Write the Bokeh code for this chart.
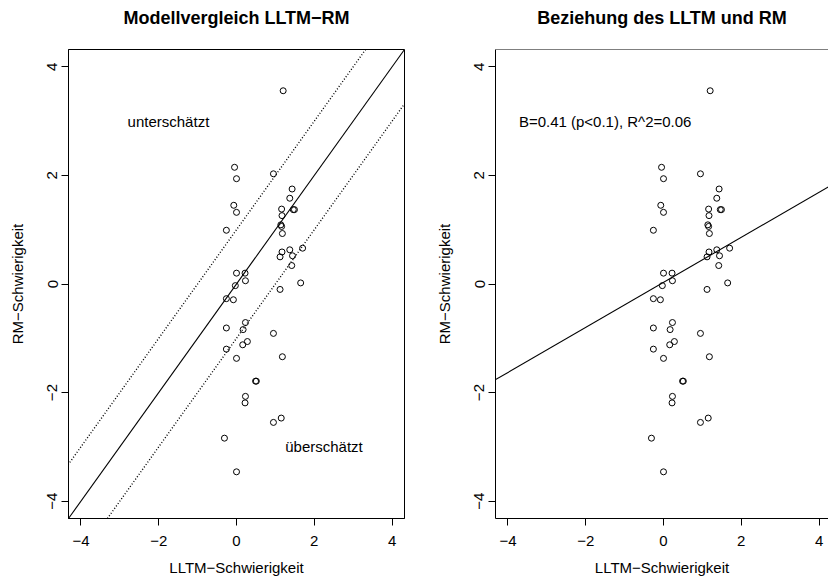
from bokeh.plotting import figure
from bokeh.layouts import row
from bokeh.models import FixedTicker, Slope, Label, Span, Range1d
from bokeh.embed import file_html
from bokeh.resources import INLINE

# ---- data ----
lltm = [1.20, -0.05, 0.00, 0.95, 1.43, 1.37, -0.07, 0.00, 1.16, 1.46, 1.49, 1.17,
        1.14, 1.16, -0.26, 1.18, 1.17, 1.37, 1.44, 1.12, 1.70, 1.42, 1.65, 1.12,
        0.00, 0.22, 0.23, -0.03, -0.26, -0.08, 0.23, -0.26, 0.17, 0.95, 0.28, 0.16,
        -0.26, 1.18, 0.00, 0.49, 0.51, 0.23, 0.22, 1.15, 0.95, -0.31, 0.00]
rm = [3.56, 2.15, 1.94, 2.03, 1.75, 1.58, 1.45, 1.32, 1.38, 1.37, 1.37, 1.26,
      1.09, 1.06, 0.99, 0.93, 0.59, 0.63, 0.52, 0.50, 0.66, 0.34, 0.02, -0.10,
      0.20, 0.20, 0.06, -0.03, -0.27, -0.29, -0.71, -0.81, -0.84, -0.91, -1.06, -1.12,
      -1.20, -1.34, -1.37, -1.79, -1.79, -2.07, -2.19, -2.47, -2.55, -2.84, -3.46]

ticks = [-4, -2, 0, 2, 4]
tick_labels = ["\u22124", "\u22122", "0", "2", "4"]

identity_line = (1.0, 0.0)          # gradient, intercept
band_intercepts = [1.0, -1.0]       # dotted lines y = x +/- 1
regression_line = (0.415, 0.03)     # gradient, intercept

titles = ["Modellvergleich LLTM\u2212RM", "Beziehung des LLTM und RM"]
xlabel = "LLTM\u2212Schwierigkeit"
ylabel = "RM\u2212Schwierigkeit"
notes_left = [(-1.75, 3.0, "unterschätzt"), (2.25, -3.0, "überschätzt")]
note_right = (-1.5, 3.0, "B=0.41 (p<0.1), R^2=0.06")

FONT = "Liberation Sans"
LIM = 4.32
FRAME_W = 336


def style(p):
    p.grid.visible = False
    p.background_fill_color = "white"
    p.border_fill_color = "white"
    p.title.text_font = FONT
    p.title.text_font_size = "18px"
    p.title.text_font_style = "bold"
    p.title.align = "center"
    p.title.vertical_align = "bottom"
    p.title.text_line_height = 1.1
    p.title.standoff = 0
    p.title.text_color = "black"
    for ax in (p.xaxis[0], p.yaxis[0]):
        ax.ticker = FixedTicker(ticks=ticks)
        ax.major_label_overrides = dict(zip(ticks, tick_labels))
        ax.minor_tick_line_color = None
        ax.major_tick_out = 7
        ax.major_tick_in = 0
        ax.major_tick_line_color = "black"
        ax.axis_line_color = "black"
        ax.major_label_text_font = FONT
        ax.major_label_text_font_size = "15px"
        ax.major_label_text_color = "black"
        ax.axis_label_text_font = FONT
        ax.axis_label_text_font_size = "15px"
        ax.axis_label_text_font_style = "normal"
        ax.axis_label_text_color = "black"
    p.xaxis.major_label_standoff = 10
    p.xaxis.axis_label_standoff = 10
    p.yaxis.major_label_standoff = 4
    p.yaxis.axis_label_standoff = 19
    p.xaxis.axis_label = xlabel
    p.yaxis.axis_label = ylabel
    p.yaxis.major_label_orientation = "vertical"


def points(p):
    p.scatter(lltm, rm, marker="circle", size=6, fill_color=None,
              line_color="black", line_width=1)


# ---- left panel ----
# the title carries an empty second line so that it sits higher above the frame
p1 = figure(width=431, height=578,
            x_range=Range1d(-LIM, LIM), y_range=Range1d(-LIM, LIM),
            min_border_left=68, min_border_right=27,
            min_border_top=49, min_border_bottom=60,
            title=titles[0] + "\n", output_backend="svg", toolbar_location=None)
style(p1)
p1.outline_line_color = "black"
p1.outline_line_width = 1
p1.add_layout(Slope(gradient=identity_line[0], y_intercept=identity_line[1],
                    line_color="black", line_width=1.1))
for b in band_intercepts:
    p1.add_layout(Slope(gradient=identity_line[0], y_intercept=b,
                        line_color="black", line_width=1.4, line_dash="1 2"))
points(p1)
for (x, y, t) in notes_left:
    p1.add_layout(Label(x=x, y=y, text=t, text_align="center", text_baseline="middle",
                        text_font=FONT, text_font_size="15px", text_color="black"))

# ---- right panel (cut off at the right edge like the reference) ----
RW = 333
p2 = figure(width=828 - 431, height=578,
            x_range=Range1d(-LIM, -LIM + 2 * LIM * RW / FRAME_W), y_range=Range1d(-LIM, LIM),
            min_border_left=64, min_border_right=0,
            min_border_top=49, min_border_bottom=60,
            title=titles[1] + "\n", output_backend="svg", toolbar_location=None)
style(p2)
p2.title.offset = 2
p2.outline_line_color = None
p2.add_layout(Span(location=LIM, dimension="width", line_color="black", line_width=1))
p2.add_layout(Slope(gradient=regression_line[0], y_intercept=regression_line[1],
                    line_color="black", line_width=1.1))
points(p2)
p2.add_layout(Label(x=note_right[0], y=note_right[1], text=note_right[2],
                    text_align="center", text_baseline="middle",
                    text_font=FONT, text_font_size="15px", text_color="black"))

layout = row(p1, p2)
open("out.html", "w").write(file_html(layout, INLINE))
